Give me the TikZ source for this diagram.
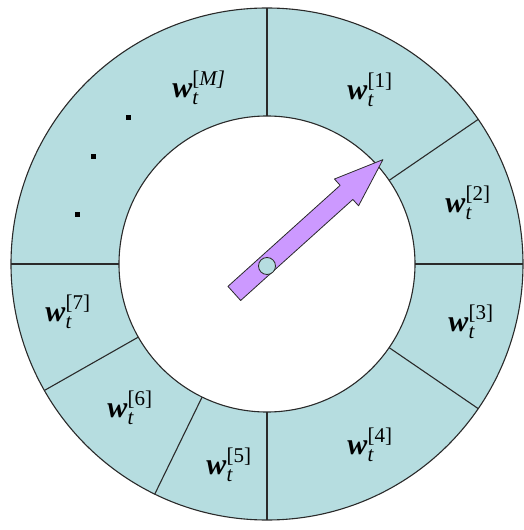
\documentclass[tikz,border=0pt]{standalone}
\usepackage{amsmath}
\usepackage{fontspec}
\setmainfont{Liberation Serif}
\usepackage{tikz}
\definecolor{ringfill}{HTML}{B6DDE0}
\definecolor{pointerfill}{HTML}{CC99FF}
\definecolor{ink}{HTML}{2A2A2A}
\newcommand{\wlabel}[1]{\textbf{\textit{w}}$_{\text{\itshape t}}^{\text{[#1]}}$}
\tikzset{
    every picture/.style={line join=round},
    ringline/.style={draw=ink,line width=1.1pt},
    weightlabel/.style={font=\fontsize{30}{32}\selectfont,inner sep=0pt},
    pointer/.style={draw=ink,fill=pointerfill,line width=0.8pt},
    hub/.style={circle,draw=ink,fill=ringfill,line width=0.8pt,
      minimum size=17pt,inner sep=0pt},
    gapdot/.style={fill=black,minimum size=5pt,inner sep=0pt}
}

\begin{document}
\begin{tikzpicture}[x=1pt,y=1pt]
  \useasboundingbox (-267,-266) rectangle (256,264);
  % ring of weights
  \fill[ringfill,even odd rule] (0,0) circle (256) (0,0) circle (148);
  \draw[ringline] (0,0) circle (256) (0,0) circle (148);
  \foreach \ang in {90,34.4,0,-34.4,-90,244,209.6,180}
    \draw[ringline] (\ang:148) -- (\ang:256);
  % weight labels
  \node[weightlabel] (w1) at (103,174) {\wlabel{1}};
  \node[weightlabel] (w2) at (201,61) {\wlabel{2}};
  \node[weightlabel] (w3) at (204,-58) {\wlabel{3}};
  \node[weightlabel] (w4) at (103,-181) {\wlabel{4}};
  \node[weightlabel] (w5) at (-38,-201) {\wlabel{5}};
  \node[weightlabel] (w6) at (-137,-144) {\wlabel{6}};
  \node[weightlabel] (w7) at (-199,-48) {\wlabel{7}};
  \node[weightlabel] (wM) at (-68,176) {\wlabel{\itshape M}};
  % dots for the skipped weights
  \node[gapdot] (d1) at (-138,146) {};
  \node[gapdot] (d2) at (-173,107) {};
  \node[gapdot] (d3) at (-189,49) {};
  % spinning pointer
  \begin{scope}[rotate=42]
    \draw[pointer] (-44,-9.5) -- (107,-9.5) -- (107,-18) -- (156,0)
      -- (107,18) -- (107,9.5) -- (-44,9.5) -- cycle;
  \end{scope}
  \node[hub] (hub) at (0,-2) {};
\end{tikzpicture}
\end{document}
